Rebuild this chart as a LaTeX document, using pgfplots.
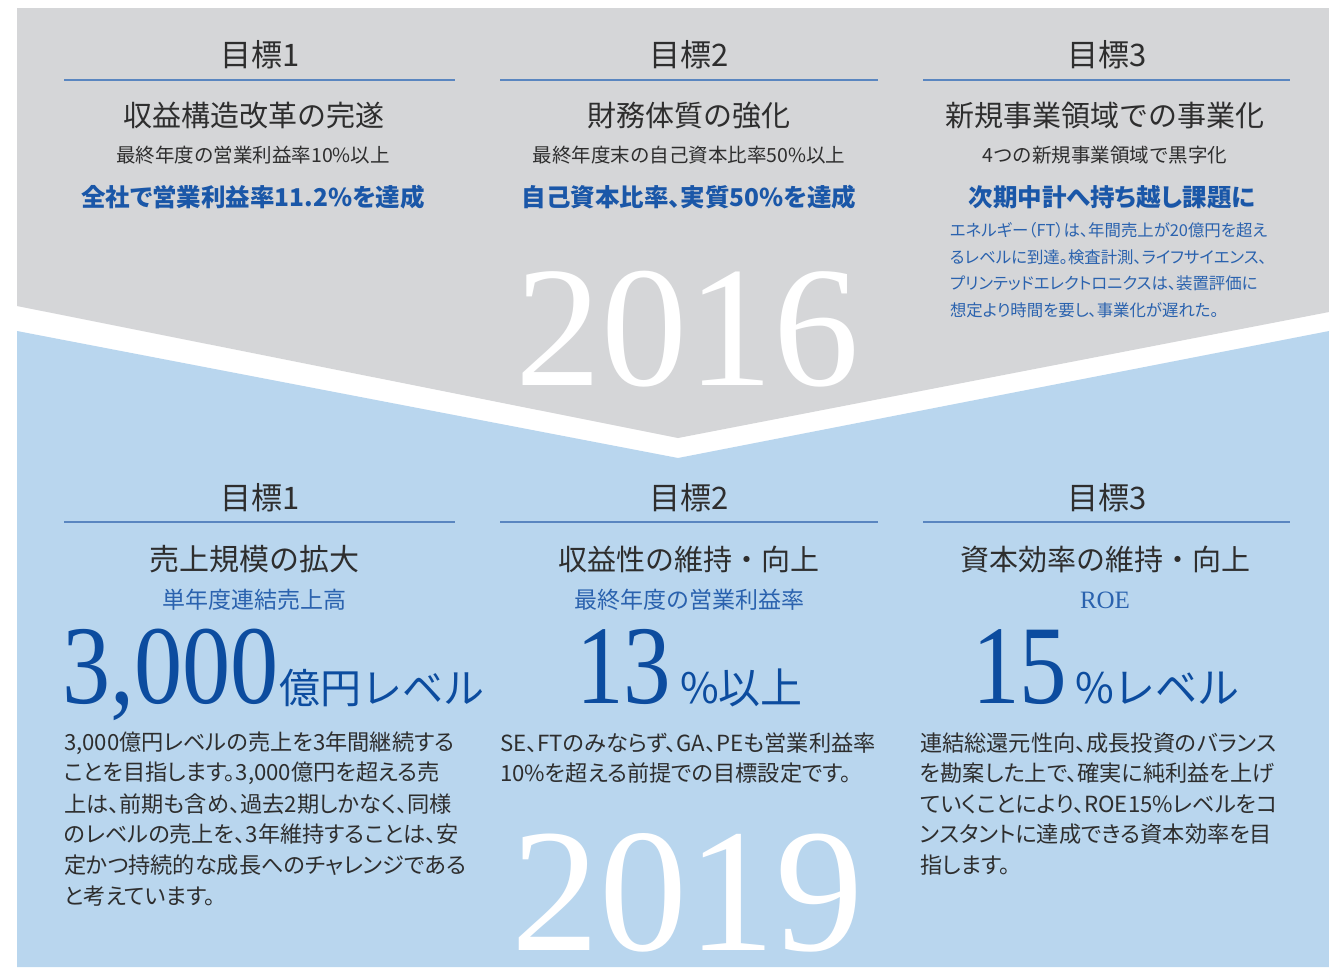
\documentclass[border=0pt]{standalone}
\usepackage{pgfplots}
\pgfplotsset{compat=1.18}
\usepackage{graphicx}
\usepackage{fontspec}
\setmainfont{Liberation Serif}
\newfontfamily\jp{Noto Sans CJK JP}
\newfontfamily\jpp[RawFeature=+palt]{Noto Sans CJK JP}
\newfontfamily\sr{Liberation Serif}
\definecolor{bggray}{HTML}{D5D6D8}
\definecolor{bgblue}{HTML}{B9D6EE}
\definecolor{rule}{HTML}{5A86C0}
\definecolor{dark}{HTML}{2E2E2E}
\definecolor{midblue}{HTML}{2A62AE}
\definecolor{boldblue}{HTML}{1A57A8}
\definecolor{bigblue}{HTML}{0C4C9F}
\newcommand{\fs}[1]{\fontsize{#1}{#1}\selectfont}
\begin{document}
\begin{tikzpicture}
\begin{axis}[width=1329pt, height=967pt, scale only axis,
  xmin=0, xmax=1329, ymin=0, ymax=967, y dir=reverse,
  hide axis, clip=false]
% background
\addplot[fill=white, draw=none] coordinates {(0,0) (1329,0) (1329,967) (0,967)};
% gray chevron
\addplot[fill=bggray, draw=none] coordinates {(17,8) (1329,8) (1329,312) (678,438) (17,306)};
% blue chevron
\addplot[fill=bgblue, draw=none] coordinates {(17,331) (678,458) (1329,331) (1329,967) (17,967)};
% rules
\addplot[draw=rule, line width=1.5pt] coordinates {(64,80) (455,80)};
\addplot[draw=rule, line width=1.5pt] coordinates {(500,80) (878,80)};
\addplot[draw=rule, line width=1.5pt] coordinates {(923,80) (1290,80)};
\addplot[draw=rule, line width=1.5pt] coordinates {(64,522) (455,522)};
\addplot[draw=rule, line width=1.5pt] coordinates {(500,522) (878,522)};
\addplot[draw=rule, line width=1.5pt] coordinates {(923,522) (1290,522)};

\tikzset{every node/.style={inner sep=0pt, outer sep=0pt}}
% big years
\node[text=white, anchor=base] at (axis cs:687,385) {\sr\fs{172}2016};
\node[text=white, anchor=base] at (axis cs:687,950) {\sr\fs{176}2019};

% ---------- top
\node[text=dark] at (axis cs:260,55) {\jp\fs{31}目標1};
\node[text=dark] at (axis cs:689,55) {\jp\fs{31}目標2};
\node[text=dark] at (axis cs:1107,55) {\jp\fs{31}目標3};

\node[text=dark] at (axis cs:254,116) {\jp\fs{29}収益構造改革の完遂};
\node[text=dark] at (axis cs:689,116) {\jp\fs{29}財務体質の強化};
\node[text=dark] at (axis cs:1105,116) {\jp\fs{29}新規事業領域での事業化};

\node[text=dark] at (axis cs:253,155) {\jp\fs{19.5}最終年度の営業利益率10\%以上};
\node[text=dark] at (axis cs:689,155) {\jp\fs{19.5}最終年度末の自己資本比率50\%以上};
\node[text=dark] at (axis cs:1105,155) {\jp\fs{19.5}4つの新規事業領域で黒字化};

\node[text=boldblue] at (axis cs:253,197) {\jpp\bfseries\fs{24.5}全社で営業利益率11.2\%を達成};
\node[text=boldblue] at (axis cs:689,197) {\jpp\bfseries\fs{24.5}自己資本比率、実質50\%を達成};
\node[text=boldblue] at (axis cs:1112,197) {\jpp\bfseries\fs{24.5}次期中計へ持ち越し課題に};

\node[text=midblue, anchor=west] at (axis cs:950,230) {\jpp\fs{16.4}エネルギー（FT）は、年間売上が20億円を超え};
\node[text=midblue, anchor=west] at (axis cs:950,257) {\jpp\fs{16.4}るレベルに到達。検査計測、ライフサイエンス、};
\node[text=midblue, anchor=west] at (axis cs:950,283) {\jpp\fs{16.4}プリンテッドエレクトロニクスは、装置評価に};
\node[text=midblue, anchor=west] at (axis cs:950,310) {\jpp\fs{16.4}想定より時間を要し、事業化が遅れた。};

% ---------- bottom
\node[text=dark] at (axis cs:260,498) {\jp\fs{31}目標1};
\node[text=dark] at (axis cs:689,498) {\jp\fs{31}目標2};
\node[text=dark] at (axis cs:1107,498) {\jp\fs{31}目標3};

\node[text=dark] at (axis cs:254,559) {\jp\fs{30}売上規模の拡大};
\node[text=dark] at (axis cs:689,559) {\jp\fs{29}収益性の維持・向上};
\node[text=dark] at (axis cs:1105,559) {\jp\fs{29}資本効率の維持・向上};

\node[text=midblue] at (axis cs:254,600) {\jp\fs{23}単年度連結売上高};
\node[text=midblue] at (axis cs:689,600) {\jp\fs{23}最終年度の営業利益率};
\node[text=midblue] at (axis cs:1105,600) {\sr\fs{25}ROE};

\node[text=bigblue, anchor=base west] at (axis cs:62,703) {\scalebox{0.86}[1]{\sr\fs{112}3,000}\hspace{1pt}{\jp\fs{41}億円レベル}};
\node[text=bigblue, anchor=base west] at (axis cs:576,703) {\scalebox{0.85}[1]{\sr\fs{112}13}\hspace{9pt}{\jp\fs{42}\%以上}};
\node[text=bigblue, anchor=base west] at (axis cs:972,703) {\scalebox{0.85}[1]{\sr\fs{112}15}\hspace{8pt}{\jp\fs{42}\%レベル}};

\node[text=dark, anchor=west] at (axis cs:64,743) {\jpp\fs{22.2}3,000億円レベルの売上を3年間継続する};
\node[text=dark, anchor=west] at (axis cs:64,773) {\jpp\fs{22.2}ことを目指します。3,000億円を超える売};
\node[text=dark, anchor=west] at (axis cs:64,804) {\jpp\fs{22.2}上は、前期も含め、過去2期しかなく、同様};
\node[text=dark, anchor=west] at (axis cs:64,834) {\jpp\fs{22.2}のレベルの売上を、3年維持することは、安};
\node[text=dark, anchor=west] at (axis cs:64,865) {\jpp\fs{22.2}定かつ持続的な成長へのチャレンジである};
\node[text=dark, anchor=west] at (axis cs:64,896) {\jpp\fs{22.2}と考えています。};

\node[text=dark, anchor=west] at (axis cs:500,743) {\jpp\fs{22.2}SE、FTのみならず、GA、PEも営業利益率};
\node[text=dark, anchor=west] at (axis cs:500,773) {\jpp\fs{22.2}10\%を超える前提での目標設定です。};

\node[text=dark, anchor=west] at (axis cs:920,743) {\jpp\fs{22.2}連結総還元性向、成長投資のバランス};
\node[text=dark, anchor=west] at (axis cs:920,773) {\jpp\fs{22.2}を勘案した上で、確実に純利益を上げ};
\node[text=dark, anchor=west] at (axis cs:920,804) {\jpp\fs{22.2}ていくことにより、ROE15\%レベルをコ};
\node[text=dark, anchor=west] at (axis cs:920,834) {\jpp\fs{22.2}ンスタントに達成できる資本効率を目};
\node[text=dark, anchor=west] at (axis cs:920,865) {\jpp\fs{22.2}指します。};
\end{axis}
\end{tikzpicture}
\end{document}
